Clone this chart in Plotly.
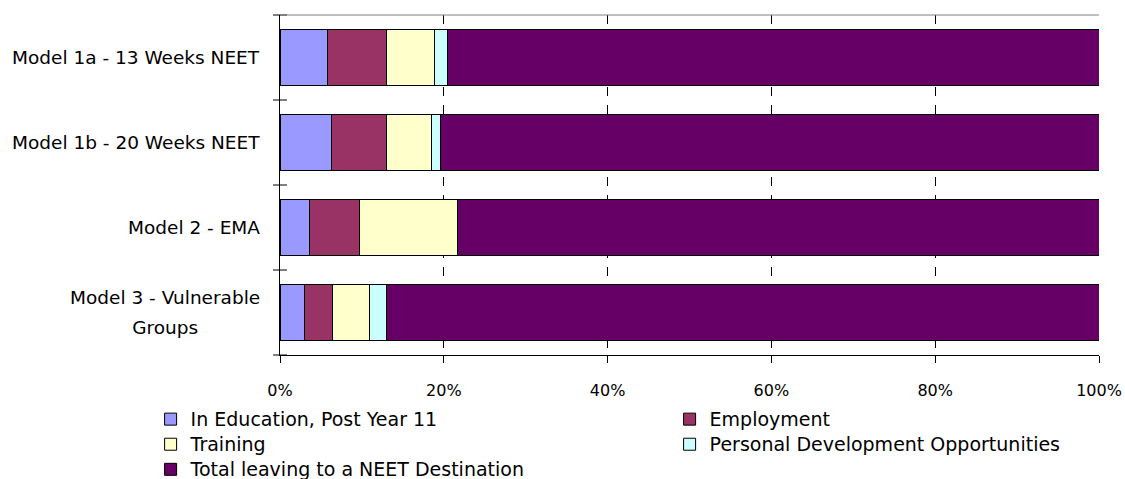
import plotly.graph_objects as go

categories = ["Model 1a - 13 Weeks NEET", "Model 1b - 20 Weeks NEET",
              "Model 2 - EMA", "Model 3 - Vulnerable<br>Groups"]
series_names = ["In Education, Post Year 11", "Employment", "Training",
                "Personal Development Opportunities", "Total leaving to a NEET Destination"]
education = [5.8, 6.3, 3.6, 3.0]
employment = [7.2, 6.7, 6.1, 3.4]
training = [5.9, 5.5, 12.0, 4.5]
personal_dev = [1.5, 1.05, 0.0, 2.05]
neet = [79.6, 80.45, 78.3, 87.05]
colors = ["#9999FF", "#993366", "#FFFFCC", "#CCFFFF", "#660066"]
x_ticks = [0, 20, 40, 60, 80, 100]
x_tick_labels = ["0%", "20%", "40%", "60%", "80%", "100%"]

FONT = "DejaVu Sans"
fig = go.Figure()
for name, vals, col in zip(series_names, [education, employment, training, personal_dev, neet], colors):
    fig.add_trace(go.Bar(
        y=categories, x=vals, name='<span style="font-size:19px">%s</span>' % name,
        orientation="h",
        marker=dict(color=col, line=dict(color="#000000", width=1)),
    ))

fig.update_layout(
    width=1125, height=479,
    margin=dict(l=280, r=26, t=15, b=124, autoexpand=False),
    barmode="stack", bargap=0.34,
    paper_bgcolor="white", plot_bgcolor="white",
    font=dict(family=FONT, size=16, color="#000000"),
    showlegend=True,
    legend=dict(
        orientation="h", x=-0.158, xanchor="left", y=-0.137, yanchor="top",
        font=dict(family=FONT, size=17), entrywidth=474, traceorder="normal",
        bgcolor="rgba(0,0,0,0)", tracegroupgap=0,
    ),
)
fig.update_xaxes(
    range=[0, 100], tickvals=x_ticks, ticktext=x_tick_labels,
    showgrid=True, gridcolor="#000000", gridwidth=1, griddash="dash",
    zeroline=False, showline=True, linecolor="#000000", linewidth=1,
    ticks="outside", ticklen=7, tickcolor="#000000",
    ticklabelstandoff=14, tickfont=dict(family=FONT, size=16),
)
fig.update_yaxes(
    categoryorder="array", categoryarray=categories, autorange="reversed",
    showticklabels=False, showgrid=False, zeroline=False,
    showline=True, linecolor="#000000", linewidth=1, ticks="",
)

# category labels (centered multi-line, wider line spacing)
for c in categories:
    lines = c.split("<br>")
    txt = "<br>".join('<span style="font-size:18.5px">%s</span>' % ln for ln in lines)
    fig.add_annotation(x=0, xref="paper", y=c, yref="y", text=txt, showarrow=False,
                       xanchor="right", xshift=-18, align="center",
                       font=dict(family=FONT, size=23 if len(lines) > 1 else 18.5, color="#000000"))

# crossing tick marks at category boundaries
for i in range(len(categories) + 1):
    fig.add_shape(type="line", xref="paper", yref="paper",
                  x0=-7 / 819, x1=7 / 819, y0=i / len(categories), y1=i / len(categories),
                  line=dict(color="#000000", width=1))
# top border
fig.add_shape(type="line", xref="paper", yref="paper", x0=0, x1=1, y0=1, y1=1,
              line=dict(color="#808080", width=1))

fig.write_html("out.html")
